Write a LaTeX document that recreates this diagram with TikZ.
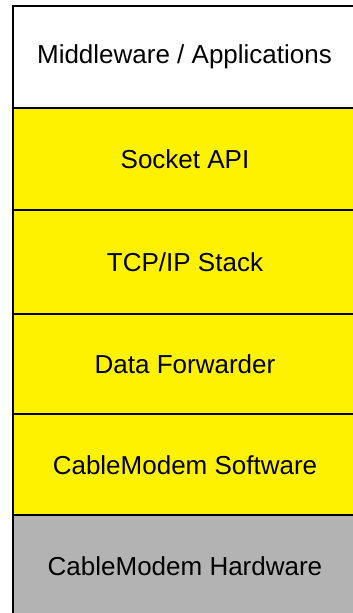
\documentclass[tikz,border=0pt]{standalone}
\usepackage{fontspec}
\setmainfont{Liberation Sans}
\definecolor{layergray}{HTML}{B3B3B3}
\begin{document}
\begin{tikzpicture}[x=1pt,y=-1pt,
  layer/.style={draw=black,line width=2.8pt},
  lbl/.style={font=\fontsize{26}{30}\selectfont,inner sep=0pt}]
\useasboundingbox (0,0) rectangle (353,613);
\clip (0,0) rectangle (353,613);
\fill[white] (0,0) rectangle (353,613);
\draw[layer,fill=white] (13,6) rectangle (358,108);
\draw[layer,fill=yellow] (13,108) rectangle (358,210);
\draw[layer,fill=yellow] (13,210) rectangle (358,314);
\draw[layer,fill=yellow] (13,314) rectangle (358,414);
\draw[layer,fill=yellow] (13,414) rectangle (358,515);
\draw[layer,fill=layergray] (13,515) rectangle (358,620);
\node[lbl] (mw) at (184.5,57) {Middleware / Applications};
\node[lbl] (sock) at (185,159) {Socket API};
\node[lbl] (tcp) at (185,262) {TCP/IP Stack};
\node[lbl] (fwd) at (185,364) {Data Forwarder};
\node[lbl] (cms) at (185,465) {CableModem Software};
\node[lbl] (cmh) at (185,566) {CableModem Hardware};
\end{tikzpicture}
\end{document}
